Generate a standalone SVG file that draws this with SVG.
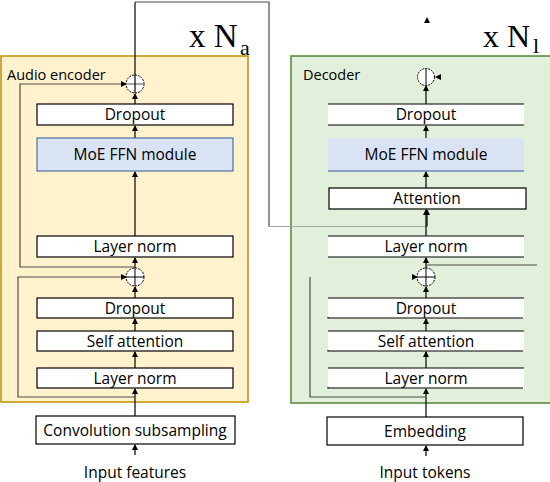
<svg xmlns="http://www.w3.org/2000/svg" width="550" height="482" viewBox="0 0 550 482">
<style>
.t{font-family:"Open Sans","Liberation Sans",sans-serif;font-size:15.5px;fill:#000;text-anchor:middle}
.lbl{font-family:"Open Sans","Liberation Sans",sans-serif;font-size:14.5px;fill:#000}
.n{font-family:"Liberation Serif","Times New Roman",serif;fill:#000}
.box{fill:#fff;stroke:#000;stroke-width:1.2}
.dbox{fill:#fff;stroke:#000;stroke-width:1.2;stroke-dasharray:196 21}
.moe{fill:#dae3f3;stroke:#2f5597;stroke-width:1}
.ln{fill:none;stroke:#000;stroke-width:1.2}
.g{fill:none;stroke:#4d4d4d;stroke-width:1.2}
.lg{fill:none;stroke:#a6a6a6;stroke-width:1.2}
.c{fill:#fff;stroke:#000;stroke-width:1;stroke-dasharray:2 1}
</style>
<defs>
<marker id="ah" markerUnits="userSpaceOnUse" markerWidth="6" markerHeight="6" refX="5" refY="3" orient="auto">
<path d="M0,0 L6,3 L0,6 z" fill="#000"/>
</marker>
</defs>

<g id="encoder-bg">
<rect x="1" y="56" width="247" height="346" fill="#fff2cc" stroke="#bf9000" stroke-width="1.5"/>
<text class="lbl" x="7" y="80">Audio encoder</text>
</g>
<g id="decoder-bg">
<rect x="291" y="56" width="270" height="347" fill="#e2efda" stroke="#548235" stroke-width="1.5"/>
<text class="lbl" x="303" y="80">Decoder</text>
</g>

<g id="na"><text class="n" x="189" y="47" font-size="33">x N</text><text class="n" x="240" y="55" font-size="22">a</text></g>
<g id="nl"><text class="n" x="483" y="47" font-size="32">x N</text><text class="n" x="533" y="53" font-size="22">l</text></g>

<g id="connectors">
<path class="ln" d="M135,416 V389" stroke-width="2" marker-end="url(#ah)"/>
<path class="ln" d="M135,368 V352" marker-end="url(#ah)"/>
<path class="ln" d="M135,331 V319" marker-end="url(#ah)"/>
<path class="ln" d="M135,298 V287" marker-end="url(#ah)"/>
<path class="ln" d="M135,268 V258" marker-end="url(#ah)"/>
<path class="ln" d="M135,236 V172" marker-end="url(#ah)"/>
<path class="ln" d="M135,138 V126" marker-end="url(#ah)"/>
<path class="ln" d="M135,104 V94" marker-end="url(#ah)"/>
<path class="ln" d="M135,455 V445" marker-end="url(#ah)"/>
<path class="g" d="M135,267 H20 V84 H126" marker-end="url(#ah)"/>
<path class="g" d="M135,397 H18 V277 H126" marker-end="url(#ah)"/>
<path class="ln" d="M135,84 V2"/>
<path class="g" d="M135,2 H269 V226.5"/>
<path class="lg" d="M269,226.5 H427"/>
<path class="ln" d="M427,226.5 V210" marker-end="url(#ah)"/>
<path class="ln" d="M426,417 V389" stroke-width="2" marker-end="url(#ah)"/>
<path class="ln" d="M426,368 V352" marker-end="url(#ah)"/>
<path class="ln" d="M426,331 V319" marker-end="url(#ah)"/>
<path class="ln" d="M426,298 V287" marker-end="url(#ah)"/>
<path class="ln" d="M426,268 V258" marker-end="url(#ah)"/>
<path class="ln" d="M426,236 V210" marker-end="url(#ah)"/>
<path class="ln" d="M426,188 V172" marker-end="url(#ah)"/>
<path class="ln" d="M426,138 V126" marker-end="url(#ah)"/>
<path class="ln" d="M426,104 V86" marker-end="url(#ah)"/>
<path class="ln" d="M426,456 V446" stroke="#555" marker-end="url(#ah)"/>
<path class="g" d="M310,277 V397 H426"/>
<path class="g" d="M427,265 H537"/>
<polygon points="412,274 418,277 412,280" fill="#000"/>
<polygon points="441,74 435,77 441,80" fill="#000"/>
<polygon points="424,23 427,17 430,23" fill="#000"/>
</g>

<g id="enc-add-top"><circle class="c" cx="135" cy="84" r="9"/><path d="M126,84 H144" stroke="#888" stroke-width="1.5"/><path d="M135,75 V93" stroke="#000" stroke-width="1.2"/></g>
<g id="enc-add-bot"><circle class="c" cx="135" cy="277" r="9"/><path d="M126,277 H144 M135,268 V286" stroke="#000" stroke-width="1"/></g>
<g id="dec-add-top"><circle class="c" cx="426" cy="77" r="8.5"/><path d="M426,68.5 V85.5" stroke="#000" stroke-width="1"/></g>
<g id="dec-add-bot"><circle class="c" cx="426" cy="277" r="9"/><path d="M417,277 H435 M426,268 V286" stroke="#000" stroke-width="1"/></g>

<g id="enc-dropout2"><rect class="box" x="37" y="104" width="196" height="21"/><text class="t" x="135" y="120">Dropout</text></g>
<g id="enc-moe"><rect class="moe" x="37" y="138" width="196" height="33"/><text class="t" x="135" y="160">MoE FFN module</text></g>
<g id="enc-ln2"><rect class="box" x="37" y="236" width="196" height="21"/><text class="t" x="135" y="252">Layer norm</text></g>
<g id="enc-dropout1"><rect class="box" x="37" y="298" width="196" height="20"/><text class="t" x="135" y="314">Dropout</text></g>
<g id="enc-sa"><rect class="box" x="37" y="331" width="196" height="20"/><text class="t" x="135" y="347">Self attention</text></g>
<g id="enc-ln1"><rect class="box" x="37" y="368" width="196" height="20"/><text class="t" x="135" y="384">Layer norm</text></g>
<g id="conv"><rect class="box" x="36" y="416" width="199" height="28"/><text class="t" x="135" y="436">Convolution subsampling</text></g>
<g id="in-feat"><text class="t" x="135" y="478">Input features</text></g>

<g id="dec-dropout2"><rect class="dbox" x="328" y="104" width="196" height="21"/><text class="t" x="426" y="120">Dropout</text></g>
<g id="dec-moe"><rect x="328" y="138" width="196" height="33" fill="#dae3f3"/><path d="M328,171 H524" stroke="#2f5597" stroke-width="1.2"/><text class="t" x="426" y="160">MoE FFN module</text></g>
<g id="dec-att"><rect class="box" x="329" y="188" width="197" height="21"/><text class="t" x="427" y="204">Attention</text></g>
<g id="dec-ln2"><rect class="dbox" x="328" y="236" width="196" height="21"/><text class="t" x="426" y="252">Layer norm</text></g>
<g id="dec-dropout1"><rect class="dbox" x="328" y="298" width="196" height="20" stroke-dasharray="196 20"/><text class="t" x="426" y="314">Dropout</text></g>
<g id="dec-sa"><rect class="dbox" x="328" y="331" width="196" height="20" stroke-dasharray="196 20"/><text class="t" x="426" y="347">Self attention</text></g>
<g id="dec-ln1"><rect class="dbox" x="328" y="368" width="196" height="20" stroke-dasharray="196 20"/><text class="t" x="426" y="384">Layer norm</text></g>
<g id="embed"><rect class="box" x="327" y="417" width="196" height="28"/><text class="t" x="425" y="437">Embedding</text></g>
<g id="in-tok"><text class="t" x="425" y="478">Input tokens</text></g>
</svg>
